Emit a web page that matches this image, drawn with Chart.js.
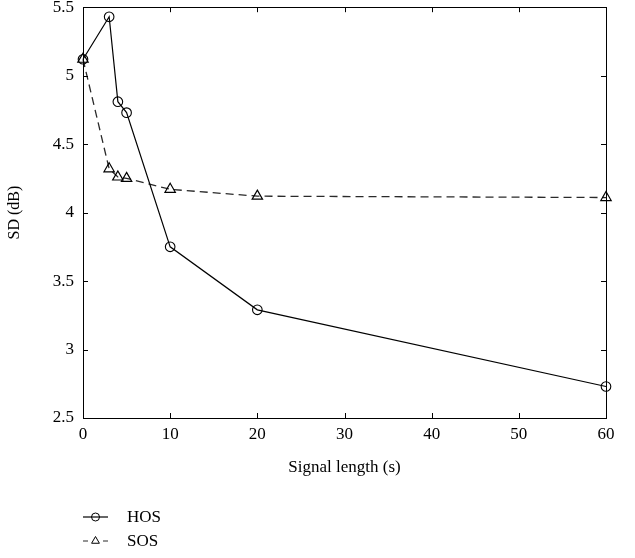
<!DOCTYPE html>
<html>
<head>
<meta charset="utf-8">
<script src="https://cdn.jsdelivr.net/npm/chart.js@4/dist/chart.umd.min.js"></script>
<style>
  html, body { margin: 0; padding: 0; background: #fff; }
  #wrap { width: 635px; height: 558px; }
</style>
</head>
<body>
<div id="wrap"><canvas id="myChart"></canvas></div>
<script>
// Signal length (s) on the x axis
const signalLength = [0, 3, 4, 5, 10, 20, 60];
// SD (dB) for each method
const hosValues = [5.12, 5.43, 4.81, 4.73, 3.75, 3.29, 2.73];
const sosValues = [5.12, 4.32, 4.26, 4.25, 4.17, 4.12, 4.11];
// tick labels
const xTicks = [0, 10, 20, 30, 40, 50, 60];
const yTicks = [2.5, 3, 3.5, 4, 4.5, 5, 5.5];

const serif = "'Liberation Serif', 'DejaVu Serif', serif";

function toPoints(xs, ys) {
    return xs.map((x, i) => ({ x: x, y: ys[i] }));
}

// Matlab style box with inward ticks
const boxTicks = {
    id: 'boxTicks',
    afterDraw(chart) {
        const ctx = chart.ctx;
        const a = chart.chartArea;
        const len = 5;
        ctx.save();
        ctx.strokeStyle = '#000';
        ctx.lineWidth = 1;
        ctx.beginPath();
        chart.scales.x.ticks.forEach(t => {
            const px = Math.round(chart.scales.x.getPixelForValue(t.value)) + 0.5;
            ctx.moveTo(px, a.bottom); ctx.lineTo(px, a.bottom - len);
            ctx.moveTo(px, a.top); ctx.lineTo(px, a.top + len);
        });
        chart.scales.y.ticks.forEach(t => {
            const py = Math.round(chart.scales.y.getPixelForValue(t.value)) + 0.5;
            ctx.moveTo(a.left, py); ctx.lineTo(a.left + len, py);
            ctx.moveTo(a.right, py); ctx.lineTo(a.right - len, py);
        });
        ctx.stroke();
        ctx.strokeRect(Math.round(a.left) + 0.5, Math.round(a.top) + 0.5,
            Math.round(a.right - a.left), Math.round(a.bottom - a.top));
        ctx.restore();
    }
};

// legend under the axes: line sample + marker + name
const bottomLegend = {
    id: 'bottomLegend',
    afterDraw(chart) {
        const ctx = chart.ctx;
        const x0 = 83, x1 = 108, tx = 127;
        const rows = [517, 541];
        chart.data.datasets.forEach((ds, i) => {
            const y = rows[i];
            const mid = (x0 + x1) / 2;
            ctx.save();
            ctx.strokeStyle = ds.borderColor;
            ctx.lineWidth = 1.2;
            ctx.beginPath();
            if (ds.borderDash) {
                ctx.moveTo(x0, y); ctx.lineTo(x0 + 5, y);
                ctx.moveTo(x1 - 5, y); ctx.lineTo(x1, y);
            } else {
                ctx.moveTo(x0, y); ctx.lineTo(x1, y);
            }
            ctx.stroke();
            ctx.strokeStyle = ds.pointBorderColor;
            ctx.lineWidth = 1;
            Chart.helpers.drawPoint(ctx, {
                pointStyle: ds.pointStyle,
                radius: ds.pointStyle === 'triangle' ? 4.5 : 4,
                borderWidth: 1
            }, mid, y);
            ctx.fillStyle = '#000';
            ctx.font = "17px " + serif;
            ctx.textBaseline = 'middle';
            ctx.fillText(ds.label, tx, y + 1);
            ctx.restore();
        });
    }
};

const ctx = document.getElementById('myChart').getContext('2d');
new Chart(ctx, {
    type: 'line',
    data: {
        datasets: [{
            label: 'HOS',
            data: toPoints(signalLength, hosValues),
            borderColor: '#000',
            borderWidth: 1.2,
            pointStyle: 'circle',
            pointRadius: 4.8,
            pointBorderColor: '#000',
            pointBackgroundColor: 'rgba(0,0,0,0)',
            pointBorderWidth: 1.1,
            tension: 0,
            clip: false
        }, {
            label: 'SOS',
            data: toPoints(signalLength, sosValues),
            borderColor: '#2a2a2a',
            borderWidth: 1.3,
            borderDash: [8, 5],
            pointStyle: 'triangle',
            pointRadius: 6,
            pointBorderColor: '#000',
            pointBackgroundColor: 'rgba(0,0,0,0)',
            pointBorderWidth: 1.2,
            tension: 0,
            clip: false
        }]
    },
    options: {
        responsive: true,
        maintainAspectRatio: false,
        animation: false,
        layout: { padding: { left: 0, right: 29, top: 7, bottom: 80 } },
        scales: {
            x: {
                type: 'linear',
                min: 0,
                max: 60,
                afterBuildTicks: s => { s.ticks = xTicks.map(v => ({ value: v })); },
                afterFit: s => { s.height = 60; },
                grid: { display: false, drawTicks: false },
                border: { display: false },
                ticks: { color: '#000', padding: 6, font: { family: serif, size: 17 } },
                title: {
                    display: true,
                    text: 'Signal length (s)',
                    color: '#000',
                    padding: { top: 8, bottom: 0 },
                    font: { family: serif, size: 17 }
                }
            },
            y: {
                min: 2.5,
                max: 5.5,
                afterBuildTicks: s => { s.ticks = yTicks.map(v => ({ value: v })); },
                afterFit: s => { s.width = 83; s.paddingTop = 0; s.paddingBottom = 0; },
                grid: { display: false, drawTicks: false },
                border: { display: false },
                ticks: {
                    color: '#000',
                    padding: 9,
                    font: { family: serif, size: 17 },
                    callback: v => String(v)
                },
                title: {
                    display: true,
                    text: 'SD (dB)',
                    color: '#000',
                    padding: { top: 5, bottom: 0 },
                    font: { family: serif, size: 16 }
                }
            }
        },
        plugins: {
            legend: { display: false },
            tooltip: { enabled: false }
        }
    },
    plugins: [boxTicks, bottomLegend]
});
</script>
</body>
</html>
